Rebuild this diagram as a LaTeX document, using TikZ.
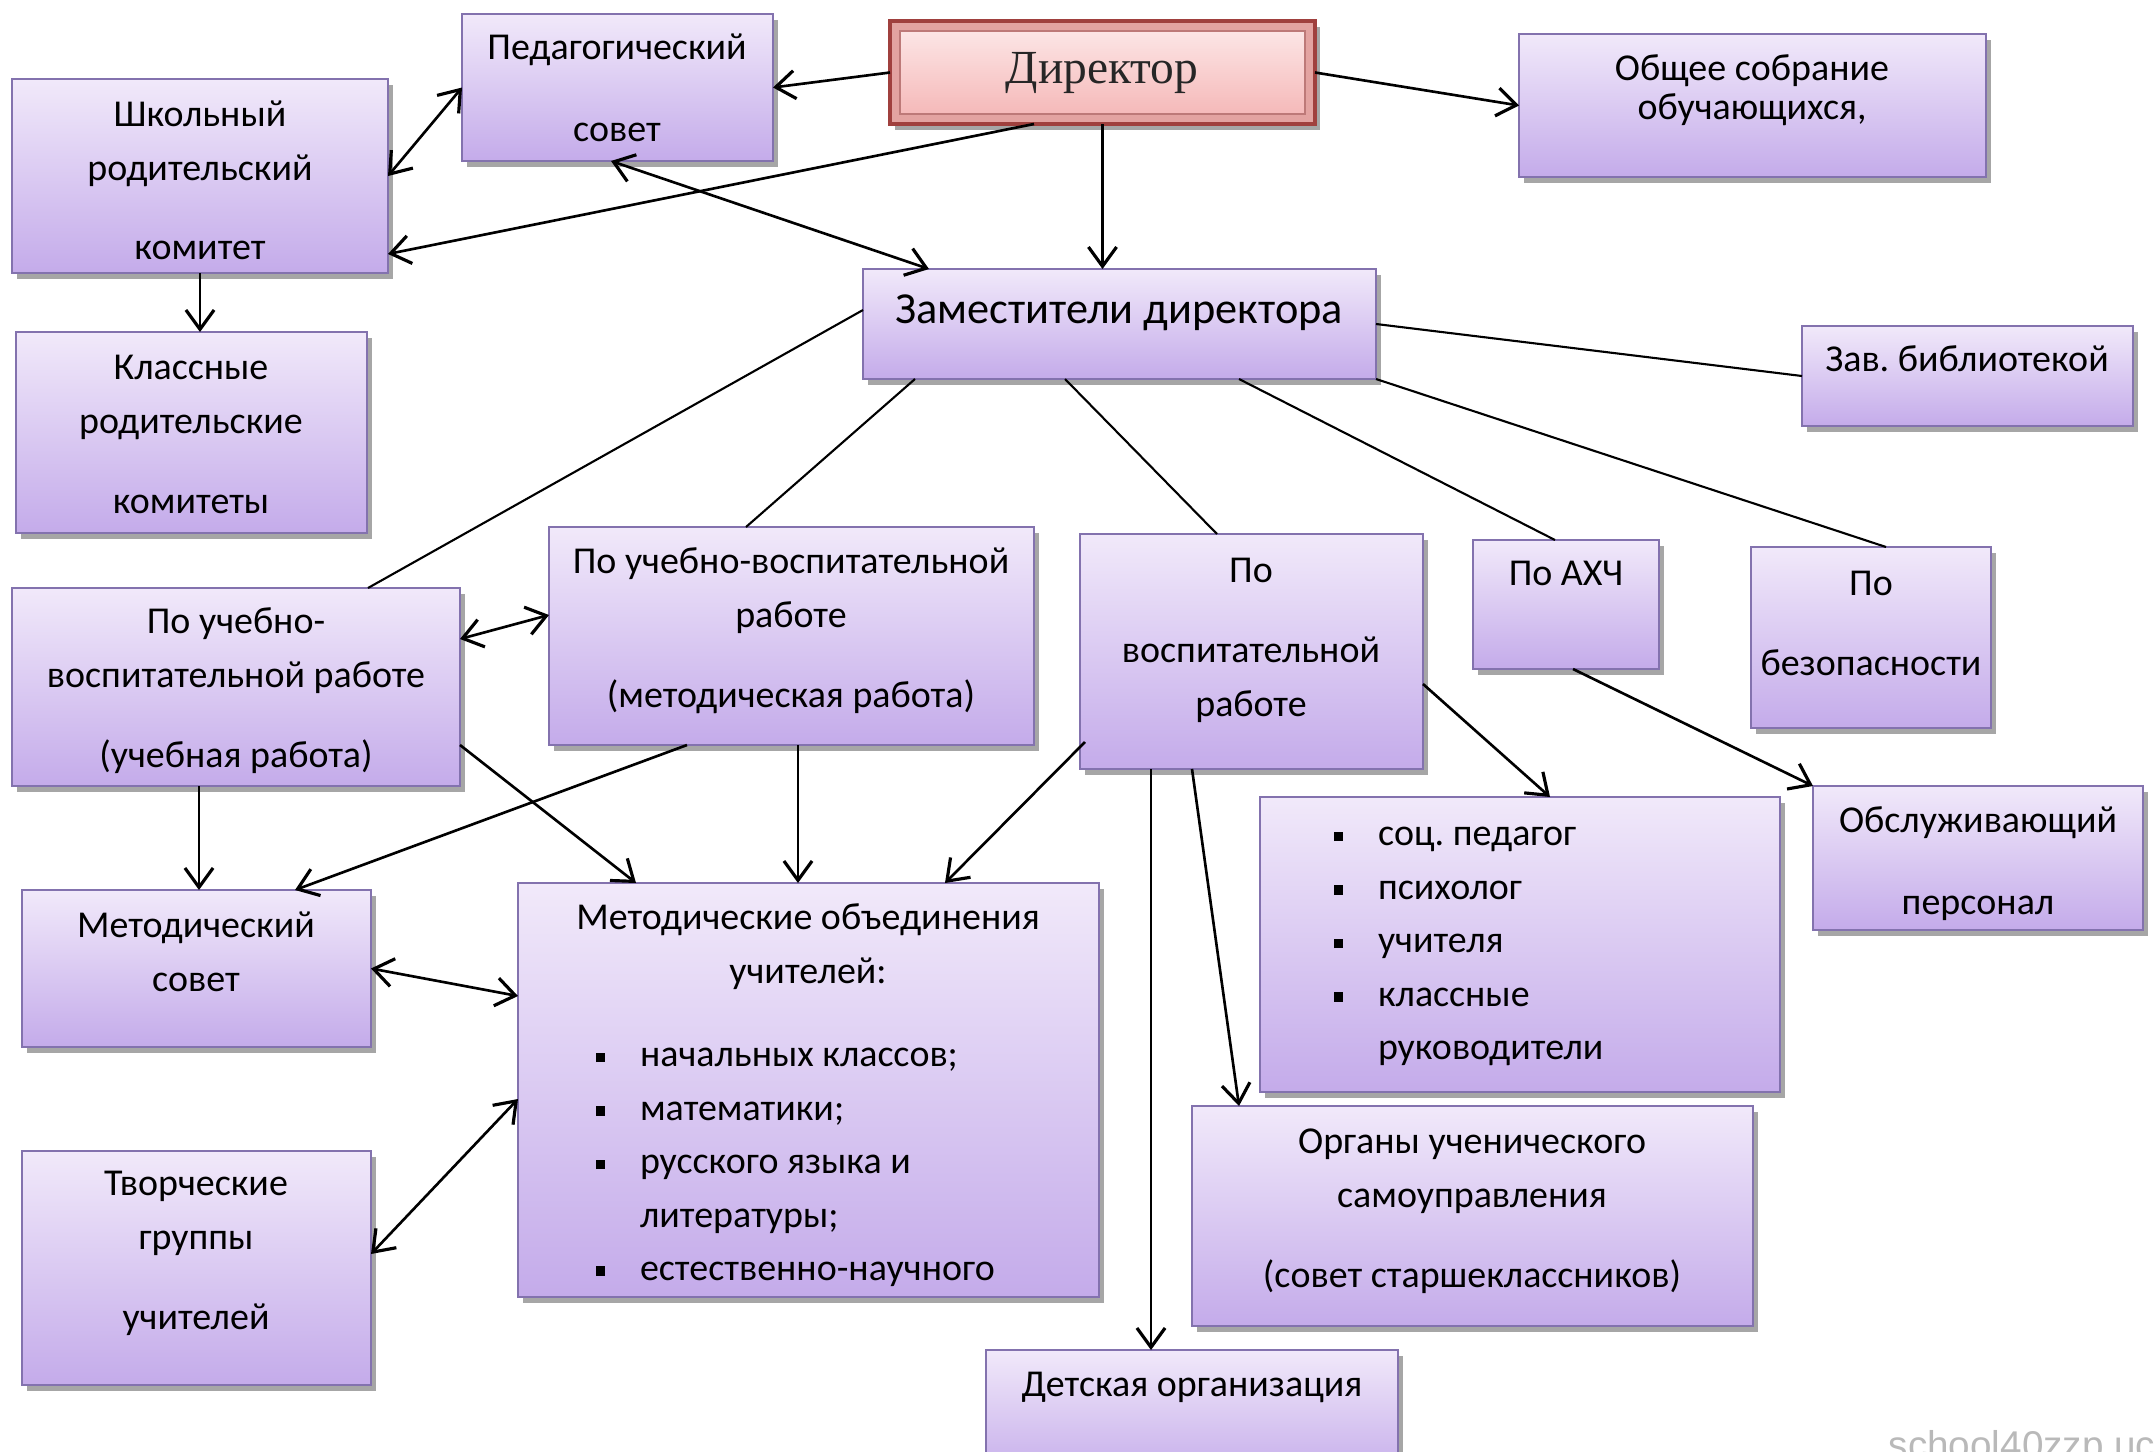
\documentclass[tikz,border=0pt]{standalone}
\usepackage{fontspec}
\setmainfont{Carlito}
\newfontfamily\dirfont{Liberation Serif}
\newfontfamily\wmfont{Liberation Sans}
\usetikzlibrary{arrows.meta,fit,calc,shadows}
\definecolor{btop}{HTML}{F1E9FA}
\definecolor{bbot}{HTML}{C4ABEA}
\definecolor{bline}{HTML}{8372AE}
\definecolor{dtop}{HTML}{FCE5E5}
\definecolor{dbot}{HTML}{F5B9B9}
\definecolor{dframe}{HTML}{E3A3A1}
\definecolor{dline}{HTML}{A0403E}
\newcommand\bul{\makebox[12.6pt][l]{\raisebox{1.3pt}{\rule{2.7pt}{2.7pt}}}}
\frenchspacing
\begin{document}
\begin{tikzpicture}[x=0.01cm,y=-0.01cm,
  box/.style={draw=bline, line width=0.5pt, top color=btop, bottom color=bbot, inner sep=0pt, outer sep=0pt,
    drop shadow={shadow xshift=1.3pt, shadow yshift=-1.6pt, fill=black, opacity=0.35}},
  dirbox/.style={draw=dline, line width=0.9pt, fill=dframe, inner sep=0pt, outer sep=0pt,
    drop shadow={shadow xshift=1.3pt, shadow yshift=-1.6pt, fill=black, opacity=0.35}},
  txt/.style={inner sep=0pt, anchor=north, align=center, font=\fontsize{10.8}{15.2}\selectfont},
  ltxt/.style={inner sep=0pt, anchor=north west, align=left, font=\fontsize{10.8}{15.2}\selectfont},
  arr/.style={draw, line width=0.75pt, -{Straight Barb[length=5.5pt,width=8pt,line width=0.9pt]}},
  darr/.style={draw, line width=0.75pt, {Straight Barb[length=5.5pt,width=8pt,line width=0.9pt]}-{Straight Barb[length=5.5pt,width=8pt,line width=0.9pt]}},
  ln/.style={draw, line width=0.6pt}]
\useasboundingbox[fill=white] (0,0) rectangle (2154,1451);

% boxes
\node[box, fit={(462,14) (773,161)}] (ped) {};
\node[dirbox, fit={(890,21) (1315,124)}] (dir) {};
\draw[draw=dline!70, line width=0.4pt, top color=dtop, bottom color=dbot]
  ($(dir.north west)+(10,10)$) rectangle ($(dir.south east)+(-10,-10)$);
\node[box, fit={(1519,34) (1986,177)}] (obsh) {};
\node[box, fit={(12,79) (388,273)}] (shk) {};
\node[box, fit={(16,332) (367,533)}] (kl) {};
\node[box, fit={(863,269) (1376,379)}] (zam) {};
\node[box, fit={(1802,326) (2133,426)}] (lib) {};
\node[box, fit={(12,588) (460,786)}] (uvr1) {};
\node[box, fit={(549,527) (1034,745)}] (uvr2) {};
\node[box, fit={(1080,534) (1423,769)}] (vosp) {};
\node[box, fit={(1473,540) (1659,669)}] (ahc) {};
\node[box, fit={(1751,547) (1991,728)}] (bez) {};
\node[box, fit={(1813,786) (2143,930)}] (obsl) {};
\node[box, fit={(22,890) (371,1047)}] (msov) {};
\node[box, fit={(518,883) (1099,1297)}] (mo) {};
\node[box, fit={(1260,797) (1780,1092)}] (soc) {};
\node[box, fit={(22,1151) (371,1385)}] (tvor) {};
\node[box, fit={(1192,1106) (1753,1326)}] (org) {};
\node[box, fit={(986,1350) (1398,1480)}] (det) {};

% texts
\node[txt] (tped) at (617,21.6) {\strut Педагогический\\[8.1pt]совет};
\node[inner sep=0pt, anchor=base, font=\dirfont\fontsize{13.5}{16}\selectfont, text=black!85] (tdir) at (1102,83) {Директор};
\node[txt] (tobsh) at (1752,42.6) {\strut Общее собрание\\[-4.1pt]обучающихся,};
\node[txt] (tshk) at (200,88.6) {\strut Школьный\\родительский\\[7.3pt]комитет};
\node[txt] (tkl) at (191,341.6) {\strut Классные\\родительские\\[7.6pt]комитеты};
\node[inner sep=0pt, anchor=base, font=\fontsize{12.6}{15.2}\selectfont] (tzam) at (1119,323) {Заместители директора};
\node[txt] (tlib) at (1967,333.6) {\strut Зав. библиотекой};
\node[txt] (tuvr1) at (236,595.6) {\strut По учебно-\\воспитательной работе\\[7.6pt](учебная работа)};
\node[txt] (tuvr2) at (791,535.6) {\strut По учебно-воспитательной\\работе\\[7.6pt](методическая работа)};
\node[txt] (tvosp) at (1251,544.6) {\strut По\\[7.6pt]воспитательной\\работе};
\node[txt] (tahc) at (1566,547.6) {\strut По АХЧ};
\node[txt] (tbez) at (1871,557.6) {\strut По\\[7.6pt]безопасности};
\node[txt] (tobsl) at (1978,794.6) {\strut Обслуживающий\\[8.1pt]персонал};
\node[txt] (tmsov) at (196,899.6) {\strut Методический\\совет};
\node[txt] (tmo) at (808,891.6) {\strut Методические объединения\\учителей:};
\node[ltxt] (tmol) at (595,1028.6) {\strut\bul начальных классов;\\\bul математики;\\\bul русского языка и\\\hspace*{12.6pt}литературы;\\\bul естественно-научного};
\node[ltxt] (tsoc) at (1333,807.6) {\strut\bul соц. педагог\\\bul психолог\\\bul учителя\\\bul классные\\\hspace*{12.6pt}руководители};
\node[txt] (ttvor) at (196,1157.6) {\strut Творческие\\группы\\[7.6pt]учителей};
\node[txt] (torg) at (1472,1115.6) {\strut Органы ученического\\самоуправления\\[7.6pt](совет старшеклассников)};
\node[txt] (tdet) at (1192,1358.6) {\strut Детская организация};
\node[inner sep=0pt, anchor=base west, font=\wmfont\fontsize{11}{13}\selectfont, text=gray!55] (wm) at (1888,1458) {school40zzp.ucoz.ru};

% connectors
\draw[arr] (dir.west) -- (ped.east);
\draw[arr] (dir.east) -- (obsh.west);
\draw[arr] (dir.south) -- (dir.south |- zam.north);
\draw[arr] ($(dir.south west)+(144,0)$) -- ($(shk.south east)+(0,-19)$);
\draw[darr] (ped.west) -- (shk.east);
\draw[darr] ($(ped.south west)+(149,0)$) -- ($(zam.north west)+(66,0)$);
\draw[arr] (shk.south) -- (shk.south |- kl.north);
\draw[ln] (zam.east) -- (lib.west);
\draw[ln] ($(zam.west)+(0,-14)$) -- ($(uvr1.north west)+(356,0)$);
\draw[ln] ($(zam.south west)+(52,0)$) -- ($(uvr2.north west)+(197,0)$);
\draw[ln] ($(zam.south west)+(202,0)$) -- ($(vosp.north west)+(137,0)$);
\draw[ln] ($(zam.south west)+(376,0)$) -- ($(ahc.north west)+(82,0)$);
\draw[ln] (zam.south east) -- ($(bez.north west)+(135,0)$);
\draw[darr] ($(uvr1.east)+(0,-48)$) -- ($(uvr2.west)+(0,-21)$);
\coordinate (o1) at ($(uvr1.south west)+(187,0)$);
\draw[arr] (o1) -- (o1 |- msov.north);
\draw[arr] ($(uvr1.south east)+(0,-41)$) -- ($(mo.north west)+(118,0)$);
\draw[arr] ($(uvr2.south west)+(138,0)$) -- ($(msov.north west)+(273,0)$);
\coordinate (o2) at ($(uvr2.south west)+(249,0)$);
\draw[arr] (o2) -- (o2 |- mo.north);
\draw[arr] ($(vosp.south west)+(5,-27)$) -- ($(mo.north west)+(427,0)$);
\draw[arr] ($(vosp.south east)+(0,-85)$) -- ($(soc.north west)+(290,0)$);
\draw[arr] ($(vosp.south west)+(112,0)$) -- ($(org.north west)+(47,0)$);
\coordinate (o3) at ($(vosp.south west)+(71,0)$);
\draw[arr] (o3) -- (o3 |- det.north);
\draw[arr] ($(ahc.south west)+(100,0)$) -- (obsl.north west);
\draw[darr] (msov.east) -- ($(mo.north west)+(0,113)$);
\draw[darr] ($(tvor.east)+(0,-14)$) -- ($(mo.north west)+(0,216)$);
\end{tikzpicture}
\end{document}
